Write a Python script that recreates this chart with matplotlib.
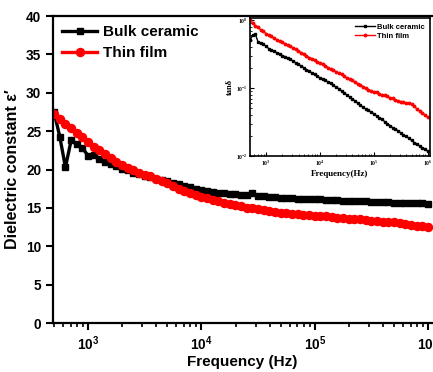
import matplotlib
matplotlib.use("Agg")
import matplotlib.pyplot as plt
from matplotlib.ticker import LogLocator, NullFormatter

# Frequency grid (Hz), shared by all series
freq = [501, 562, 631, 708, 794, 891,
        1000, 1122, 1259, 1413, 1585, 1778, 1995, 2239, 2512, 2818,
        3162, 3548, 3981, 4467, 5012, 5623, 6310, 7079, 7943, 8913,
        10000, 11220, 12590, 14130, 15850, 17780, 19950, 22390, 25120, 28180,
        31620, 35480, 39810, 44670, 50120, 56230, 63100, 70790, 79430, 89130,
        100000, 112200, 125900, 141300, 158500, 177800, 199500, 223900, 251200, 281800,
        316200, 354800, 398100, 446700, 501200, 562300, 631000, 707900, 794300, 891300,
        1000000]

# Dielectric constant, main plot
eps_bulk = [27.5, 24.3, 20.3, 23.8, 23.3, 22.8,
            21.8, 21.9, 21.4, 21.0, 20.7, 20.4, 20.1, 19.9, 19.6, 19.4,
            19.2, 19.0, 18.8, 18.7, 18.5, 18.3, 18.1, 17.9, 17.7, 17.5,
            17.3, 17.2, 17.1, 17.0, 16.9, 16.85, 16.8, 16.7, 16.65, 16.9,
            16.6, 16.5, 16.45, 16.4, 16.35, 16.3, 16.25, 16.2, 16.2, 16.15,
            16.1, 16.1, 16.05, 16.0, 16.0, 15.95, 15.9, 15.9, 15.85, 15.85,
            15.8, 15.8, 15.75, 15.75, 15.7, 15.7, 15.65, 15.65, 15.6, 15.6,
            15.55]
eps_film = [27.2, 26.6, 26.0, 25.4, 24.8, 24.2,
            23.6, 23.0, 22.5, 22.0, 21.5, 21.0, 20.6, 20.2, 19.9, 19.6,
            19.3, 19.1, 18.8, 18.5, 18.2, 17.9, 17.5, 17.2, 16.95, 16.7,
            16.45, 16.25, 16.05, 15.85, 15.7, 15.5, 15.35, 15.2, 15.05, 14.95,
            14.8, 14.7, 14.6, 14.5, 14.4, 14.3, 14.25, 14.2, 14.1, 14.05,
            14.0, 13.95, 13.9, 13.8, 13.75, 13.7, 13.6, 13.55, 13.5, 13.4,
            13.35, 13.3, 13.2, 13.15, 13.1, 13.0, 12.9, 12.8, 12.7, 12.6,
            12.5]

# Loss tangent, inset
tan_bulk = [0.50, 0.60, 0.62, 0.48, 0.46, 0.44,
            0.41, 0.38, 0.36, 0.35, 0.33, 0.32, 0.30, 0.29, 0.275, 0.263,
            0.25, 0.235, 0.224, 0.21, 0.20, 0.186, 0.178, 0.166, 0.158, 0.148,
            0.141, 0.135, 0.129, 0.123, 0.117, 0.110, 0.102, 0.098, 0.091, 0.085,
            0.079, 0.074, 0.069, 0.065, 0.060, 0.056, 0.052, 0.049, 0.047, 0.044,
            0.042, 0.039, 0.036, 0.035, 0.032, 0.030, 0.028, 0.026, 0.025, 0.0234,
            0.0219, 0.0204, 0.0195, 0.0182, 0.0170, 0.0158, 0.0151, 0.0141, 0.0132, 0.0126,
            0.0117]
tan_film = [1.00, 0.91, 0.83, 0.78, 0.72, 0.68,
            0.63, 0.60, 0.575, 0.54, 0.51, 0.49, 0.47, 0.45, 0.43, 0.41,
            0.39, 0.37, 0.35, 0.33, 0.32, 0.30, 0.28, 0.27, 0.257, 0.245,
            0.234, 0.224, 0.214, 0.20, 0.19, 0.182, 0.174, 0.166, 0.158, 0.148,
            0.141, 0.135, 0.129, 0.123, 0.115, 0.110, 0.105, 0.100, 0.095, 0.091,
            0.087, 0.087, 0.083, 0.079, 0.079, 0.076, 0.072, 0.071, 0.066, 0.065,
            0.063, 0.062, 0.060, 0.060, 0.058, 0.054, 0.049, 0.046, 0.043, 0.040,
            0.037]

labels = ["Bulk ceramic", "Thin film"]
yticks = [0, 5, 10, 15, 20, 25, 30, 35, 40]

SANS = ["Liberation Sans", "DejaVu Sans"]
SERIF = ["Liberation Serif", "DejaVu Serif"]

fig = plt.figure(figsize=(4.33, 3.72), dpi=100)
ax = fig.add_axes([0.1224, 0.1317, 0.875, 0.825])

ax.plot(freq, eps_bulk, color="black", marker="s", markersize=4.8, lw=2.4,
        label=labels[0])
ax.plot(freq, eps_film, color="red", marker="o", markersize=5.8, lw=2.4,
        label=labels[1])
ax.set_xscale("log")
ax.set_xlim(490, 1.08e6)
ax.set_ylim(0, 40)
ax.set_yticks(yticks)
ax.xaxis.set_major_locator(LogLocator(base=10, numticks=10))
ax.xaxis.set_minor_locator(LogLocator(base=10, subs=range(2, 10), numticks=20))
ax.xaxis.set_minor_formatter(NullFormatter())
for s in ["left", "bottom", "top"]:
    ax.spines[s].set_linewidth(1.6)
ax.spines["right"].set_visible(False)
ax.tick_params(axis="both", which="major", direction="out", length=5, width=1.5,
               labelsize=9.8)
ax.tick_params(axis="x", which="minor", direction="out", length=3, width=1.2)
ax.tick_params(top=False, right=False, which="both")
for lab in ax.get_yticklabels() + ax.get_xticklabels():
    lab.set_fontfamily(SANS)
    lab.set_fontweight("bold")
ax.set_xlabel("Frequency (Hz)", fontsize=11, fontweight="bold", family=SANS,
              labelpad=1.5)
ax.set_ylabel("Dielectric constant ε′", fontsize=11.5, fontweight="bold",
              family=SANS, labelpad=4)
leg = ax.legend(loc="upper left", frameon=False, handlelength=2.3,
                prop={"family": SANS, "weight": "bold", "size": 11},
                borderaxespad=0.3, borderpad=0.3, handletextpad=0.4,
                labelspacing=0.45)

# Inset
ins = fig.add_axes([0.577, 0.5806, 0.416, 0.371])
ins.plot(freq, tan_bulk, color="black", marker="s", markersize=1.8, lw=1.0,
         label=labels[0])
ins.plot(freq, tan_film, color="red", marker="o", markersize=1.8, lw=1.0,
         label=labels[1])
ins.set_xscale("log")
ins.set_yscale("log")
ins.set_xlim(500, 1.1e6)
ins.set_ylim(0.01, 1.07)
for s in ins.spines.values():
    s.set_linewidth(1.2)
ins.tick_params(which="both", direction="in", labelsize=4, pad=2)
ins.tick_params(which="major", length=3, width=0.8)
ins.tick_params(which="minor", length=1.6, width=0.6)
ins.xaxis.set_major_locator(LogLocator(base=10, numticks=10))
ins.xaxis.set_minor_locator(LogLocator(base=10, subs=range(2, 10), numticks=20))
ins.xaxis.set_minor_formatter(NullFormatter())
ins.yaxis.set_minor_formatter(NullFormatter())
for lab in ins.get_yticklabels() + ins.get_xticklabels():
    lab.set_fontfamily(SERIF)
    lab.set_fontweight("bold")
ins.set_xlabel("Frequency(Hz)", fontsize=6.5, fontweight="bold", family=SERIF,
               labelpad=1.5)
ins.set_ylabel("tanδ", fontsize=6, fontweight="bold", family=SERIF, labelpad=1)
ins.legend(loc="upper right", frameon=False, handlelength=2.5,
           prop={"family": SANS, "weight": "bold", "size": 5.5},
           borderaxespad=0.3, handletextpad=0.3, labelspacing=0.2)

fig.savefig("out.png", dpi=100)
